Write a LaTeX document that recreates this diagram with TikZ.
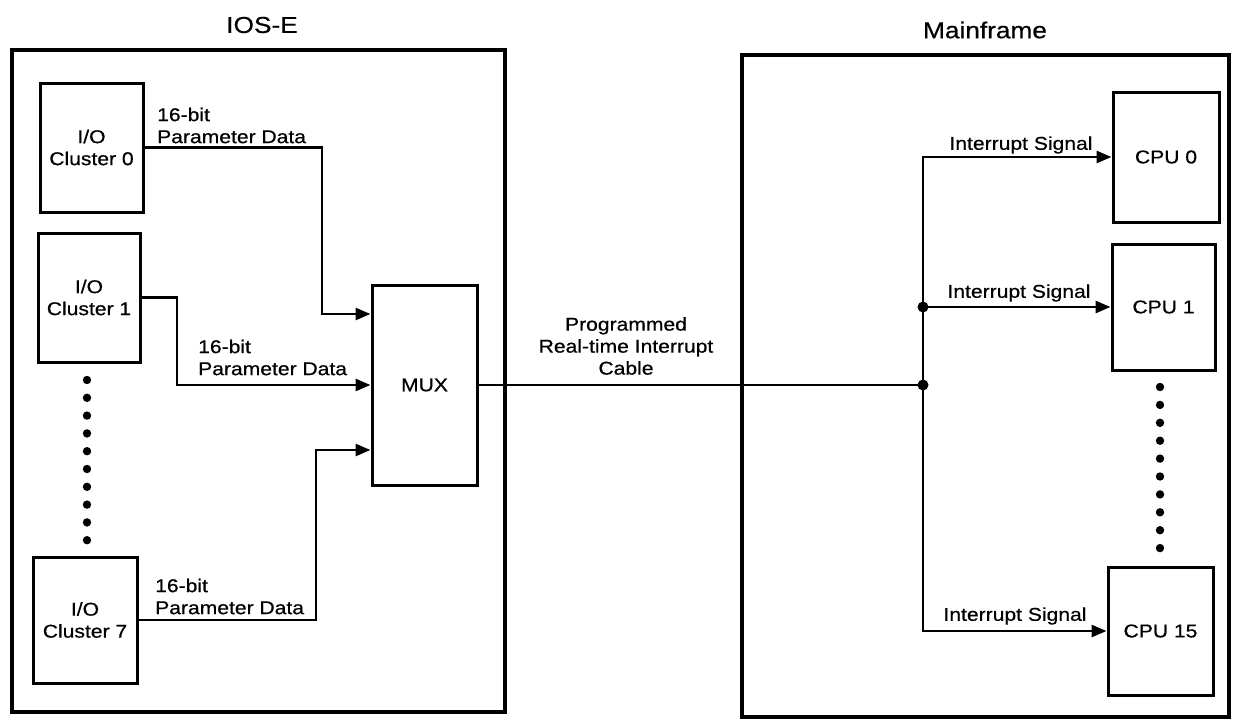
\documentclass[tikz,border=0pt]{standalone}
\usepackage{fontspec}
\setmainfont[FakeStretch=1.14,FakeBold=0.6]{Liberation Sans}
\usetikzlibrary{arrows.meta}
\begin{document}
\begin{tikzpicture}[x=1pt,y=-1pt,
  every node/.style={font=\fontsize{18.5}{22}\selectfont},
  outerbox/.style={line width=4pt},
  unitbox/.style={draw,line width=3pt,inner sep=0pt,align=center},
  wire/.style={line width=2.8pt},
  arr/.style={wire,-{Triangle[length=15pt,width=12pt]}},
  lbl/.style={align=left,anchor=west,inner sep=0pt},
  title/.style={font=\fontsize{23}{27}\selectfont}]
\useasboundingbox (0,0) rectangle (1233,720);
% outer frames
\draw[outerbox] (12,50) rectangle (505,712);
\draw[outerbox] (742,55) rectangle (1229,717);
\node[title] (tios) at (262,25) {IOS-E};
\node[title] (tmf) at (985,30) {Mainframe};
% IOS-E units
\node[unitbox,minimum width=103pt,minimum height=129pt] (c0) at (91.5,147.5) {I/O\\Cluster 0};
\node[unitbox,minimum width=102pt,minimum height=129pt] (c1) at (89,297.5) {I/O\\Cluster 1};
\node[unitbox,minimum width=104pt,minimum height=126pt] (c7) at (85,620) {I/O\\Cluster 7};
\node[unitbox,minimum width=105pt,minimum height=200pt] (mux) at (424.5,385) {MUX};
\foreach \k in {0,...,9} \fill (87,380+17.8*\k) circle (4.2pt);
% connectors to MUX
\coordinate (b0) at (322,314);
\coordinate (b1) at (177,385);
\coordinate (b7) at (316,450);
\draw[arr] (c0.east) -| (b0) -- (b0 -| mux.west);
\draw[arr] (c1.east) -| (b1) -- (b1 -| mux.west);
\draw[arr] (c7.east) -| (b7) -- (b7 -| mux.west);
\node[lbl] (l0) at (157,125.5) {16-bit\\Parameter Data};
\node[lbl] (l1) at (198,357.5) {16-bit\\Parameter Data};
\node[lbl] (l7) at (155,596.5) {16-bit\\Parameter Data};
% mainframe
\node[unitbox,minimum width=106pt,minimum height=130pt] (cpu0) at (1166,157) {CPU 0};
\node[unitbox,minimum width=103pt,minimum height=126pt] (cpu1) at (1163.5,307) {CPU 1};
\node[unitbox,minimum width=105pt,minimum height=128pt] (cpu15) at (1160.5,631) {CPU 15};
\foreach \k in {0,...,9} \fill (1160,387+17.9*\k) circle (4.2pt);
\coordinate (j0) at (923,385);
\coordinate (j1) at (j0 |- cpu1.west);
\draw[wire] (mux.east) -- (j0);
\draw[arr] (j0) |- (cpu0.west);
\draw[arr] (j0) |- (cpu15.west);
\draw[arr] (j1) -- (cpu1.west);
\fill (j0) circle (5.5pt);
\fill (j1) circle (5.5pt);
\node (s0) at (1021,145) {Interrupt Signal};
\node (s1) at (1019,293) {Interrupt Signal};
\node (s15) at (1015,616) {Interrupt Signal};
\node[align=center] (cable) at (626,346) {Programmed\\Real-time Interrupt\\Cable};
\end{tikzpicture}
\end{document}
